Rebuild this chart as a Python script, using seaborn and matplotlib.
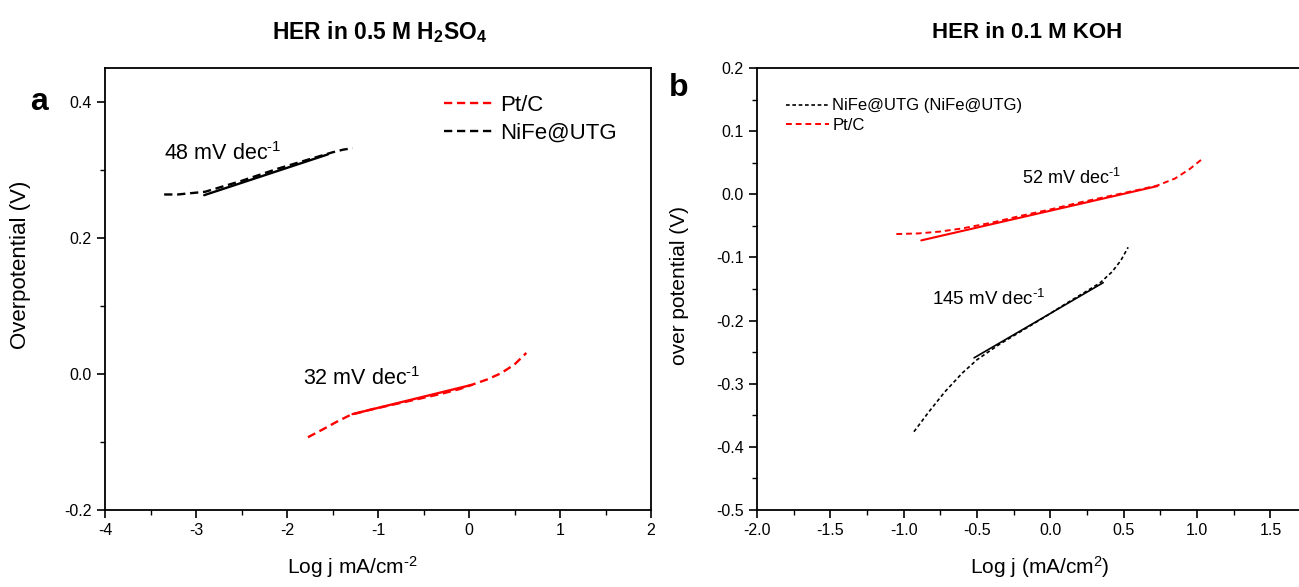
import numpy as np
import pandas as pd
import matplotlib
matplotlib.use("Agg")
import matplotlib.pyplot as plt
from matplotlib.ticker import MultipleLocator
import seaborn as sns

# ---------------- data ----------------
# Panel a: HER in 0.5 M H2SO4
acid_pt_x = [-1.77, -1.6, -1.45, -1.3, -1.1, -0.9, -0.7, -0.5, -0.3, -0.1, 0.05, 0.2, 0.35, 0.5, 0.63]
acid_pt_y = [-0.093, -0.081, -0.070, -0.060, -0.053, -0.047, -0.041, -0.035, -0.029, -0.022,
             -0.015, -0.008, 0.001, 0.014, 0.031]
acid_pt_fit_x = [-1.28, 0.03]
acid_pt_fit_y = [-0.059, -0.016]

acid_nife_x = [-3.35, -3.2, -3.05, -2.9, -2.7, -2.5, -2.3, -2.1, -1.9, -1.7, -1.5, -1.38, -1.28]
acid_nife_y = [0.264, 0.264, 0.266, 0.268, 0.276, 0.284, 0.293, 0.302, 0.310, 0.318, 0.326, 0.330, 0.332]
acid_nife_fit_x = [-2.91, -1.55]
acid_nife_fit_y = [0.263, 0.323]

# Panel b: HER in 0.1 M KOH
alk_nife_x = [-0.93, -0.83, -0.72, -0.6, -0.5, -0.35, -0.2, -0.05, 0.1, 0.25, 0.34, 0.42, 0.48, 0.53]
alk_nife_y = [-0.376, -0.345, -0.313, -0.283, -0.262, -0.238, -0.217, -0.196, -0.174, -0.153,
              -0.140, -0.123, -0.105, -0.084]
alk_nife_fit_x = [-0.52, 0.36]
alk_nife_fit_y = [-0.259, -0.140]

alk_pt_x = [-1.05, -0.9, -0.75, -0.6, -0.4, -0.2, 0.0, 0.2, 0.4, 0.6, 0.73, 0.85, 0.95, 1.03]
alk_pt_y = [-0.063, -0.062, -0.059, -0.054, -0.045, -0.034, -0.024, -0.013, -0.003, 0.007,
            0.014, 0.025, 0.040, 0.055]
alk_pt_fit_x = [-0.88, 0.73]
alk_pt_fit_y = [-0.073, 0.013]

acid_labels = ["Pt/C", "NiFe@UTG"]
alk_labels = ["NiFe@UTG (NiFe@UTG)", "Pt/C"]
tafel_acid = ["48 mV dec$^{\\text{-1}}$", "32 mV dec$^{\\text{-1}}$"]
tafel_alk = ["52 mV dec$^{\\text{-1}}$", "145 mV dec$^{\\text{-1}}$"]

# ---------------- style ----------------
sns.set_theme(style="ticks")
plt.rcParams["font.family"] = ["Liberation Sans", "DejaVu Sans"]
plt.rcParams["mathtext.fontset"] = "custom"
plt.rcParams["mathtext.rm"] = "Liberation Sans"
plt.rcParams["mathtext.it"] = "Liberation Sans:italic"
plt.rcParams["mathtext.bf"] = "Liberation Sans:bold"
plt.rcParams["axes.edgecolor"] = "black"
plt.rcParams["axes.linewidth"] = 1.3
plt.rcParams["text.color"] = "black"
plt.rcParams["axes.labelcolor"] = "black"
plt.rcParams["xtick.color"] = "black"
plt.rcParams["ytick.color"] = "black"

fig = plt.figure(figsize=(12.99, 5.87), dpi=100)
W, H = 1299, 587
ax1 = fig.add_axes([105 / W, 1 - 510 / H, 546 / W, 442 / H])
ax2 = fig.add_axes([757 / W, 1 - 510 / H, 542 / W, 442 / H])

def style_axis(ax):
    ax.tick_params(which="major", direction="out", length=6, width=1.2, colors="black",
                   labelsize=11.5, top=False, right=False)
    ax.tick_params(which="minor", direction="out", length=3.5, width=1.0, colors="black",
                   top=False, right=False)
    ax.set_facecolor("white")

# ---------------- panel a ----------------
sns.lineplot(x=acid_pt_x, y=acid_pt_y, ax=ax1, color="red", lw=1.7, sort=False,
             label=acid_labels[0], linestyle=(0, (3.5, 2)))
sns.lineplot(x=acid_nife_x, y=acid_nife_y, ax=ax1, color="black", lw=1.7, sort=False,
             label=acid_labels[1], linestyle=(0, (3.5, 2)))
sns.lineplot(x=acid_pt_fit_x, y=acid_pt_fit_y, ax=ax1, color="red", lw=1.7, sort=False)
sns.lineplot(x=acid_nife_fit_x, y=acid_nife_fit_y, ax=ax1, color="black", lw=1.7, sort=False)

ax1.set_xlim(-4, 2)
ax1.set_ylim(-0.2, 0.45)
ax1.set_xticks([-4, -3, -2, -1, 0, 1, 2])
ax1.set_xticklabels(["-4", "-3", "-2", "-1", "0", "1", "2"])
ax1.xaxis.set_minor_locator(MultipleLocator(0.5))
ax1.set_yticks([-0.2, 0.0, 0.2, 0.4])
ax1.set_yticklabels(["-0.2", "0.0", "0.2", "0.4"])
ax1.yaxis.set_minor_locator(MultipleLocator(0.1))
style_axis(ax1)
ax1.set_xlabel("Log j mA/cm$^{\\text{-2}}$", fontsize=15)
ax1.xaxis.set_label_coords((352 - 105) / 546, -0.1)
ax1.set_ylabel("Overpotential (V)", fontsize=16)
ax1.yaxis.set_label_coords(-0.135, 0.554)
ax1.text(-3.35, 0.324, tafel_acid[0], fontsize=15.5, va="center", ha="left")
ax1.text(-1.82, -0.006, tafel_acid[1], fontsize=15.5, va="center", ha="left")
ax1.legend(loc="upper left", bbox_to_anchor=(0.585, 0.985), frameon=False,
           fontsize=16, handlelength=2.3, handletextpad=0.2, labelspacing=0.3)
ax1.text(-0.12, 0.923, "a", transform=ax1.transAxes, fontsize=23, fontweight="bold",
         ha="center", va="center")
fig.text(380 / W, 1 - 32 / H, "HER in 0.5 M H$_\\mathbf{2}$SO$_\\mathbf{4}$", fontsize=16.5,
         fontweight="bold", ha="center", va="center")

# ---------------- panel b ----------------
sns.lineplot(x=alk_nife_x, y=alk_nife_y, ax=ax2, color="black", lw=1.2, sort=False,
             label=alk_labels[0], linestyle=(0, (2.2, 1.6)))
sns.lineplot(x=alk_pt_x, y=alk_pt_y, ax=ax2, color="red", lw=1.4, sort=False,
             label=alk_labels[1], linestyle=(0, (3, 2)))
sns.lineplot(x=alk_nife_fit_x, y=alk_nife_fit_y, ax=ax2, color="black", lw=1.2, sort=False)
sns.lineplot(x=alk_pt_fit_x, y=alk_pt_fit_y, ax=ax2, color="red", lw=1.5, sort=False)

ax2.set_xlim(-2.0, 1.695)
ax2.set_ylim(-0.5, 0.2)
ax2.set_xticks([-2.0, -1.5, -1.0, -0.5, 0.0, 0.5, 1.0, 1.5])
ax2.set_xticklabels(["-2.0", "-1.5", "-1.0", "-0.5", "0.0", "0.5", "1.0", "1.5"])
ax2.xaxis.set_minor_locator(MultipleLocator(0.25))
ax2.set_yticks([-0.5, -0.4, -0.3, -0.2, -0.1, 0.0, 0.1, 0.2])
ax2.set_yticklabels(["-0.5", "-0.4", "-0.3", "-0.2", "-0.1", "0.0", "0.1", "0.2"])
ax2.yaxis.set_minor_locator(MultipleLocator(0.05))
style_axis(ax2)
ax2.spines["right"].set_visible(False)
ax2.set_xlabel("Log j (mA/cm$^{2}$)", fontsize=15)
ax2.xaxis.set_label_coords((1040 - 757) / 542, -0.1)
ax2.set_ylabel("over potential (V)", fontsize=15)
ax2.yaxis.set_label_coords(-0.125, 0.509)
ax2.text(-0.19, 0.026, tafel_alk[0], fontsize=13, va="center", ha="left")
ax2.text(-0.81, -0.166, tafel_alk[1], fontsize=13.5, va="center", ha="left")
ax2.legend(loc="upper left", bbox_to_anchor=(0.025, 0.965), frameon=False,
           fontsize=12, handlelength=2.6, handletextpad=0.2, labelspacing=0.25)
ax2.text(-0.145, 0.955, "b", transform=ax2.transAxes, fontsize=23, fontweight="bold",
         ha="center", va="center")
fig.text(1027 / W, 1 - 32 / H, "HER in 0.1 M KOH", fontsize=16, fontweight="bold",
         ha="center", va="center")

fig.savefig("out.png", dpi=100, facecolor="white")
